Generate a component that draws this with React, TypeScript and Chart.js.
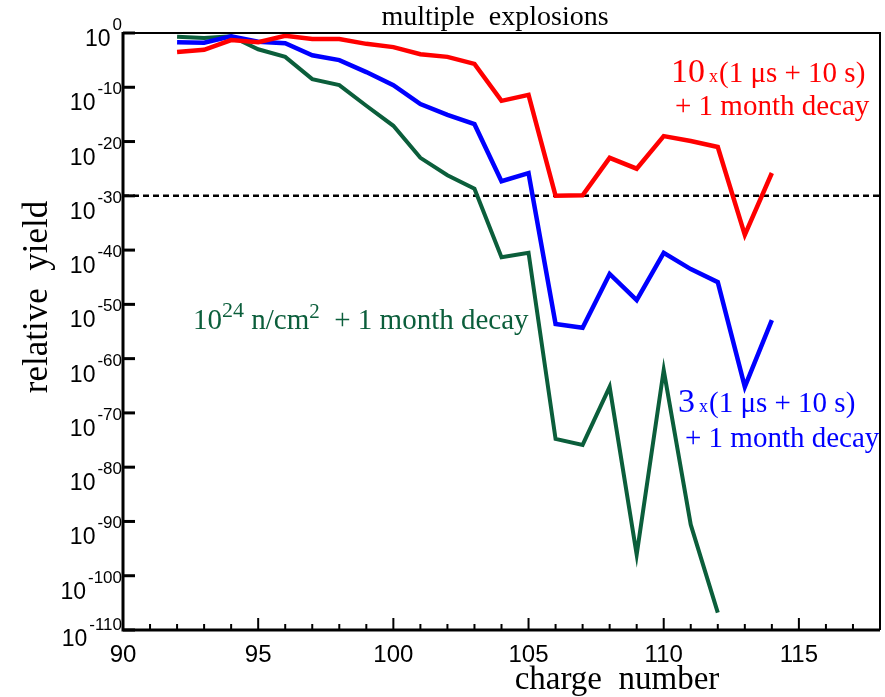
import { useEffect, useRef } from "react";
import { Chart, registerables } from "chart.js";

Chart.register(...registerables);

// ---- data (log10 of relative yield) ----
const charges = [92, 93, 94, 95, 96, 97, 98, 99, 100, 101, 102, 103, 104, 105, 106, 107, 108, 109, 110, 111, 112, 113, 114];
const redLog10 = [-3.5, -3.1, -1.3, -1.7, -0.5, -1.1, -1.1, -2.0, -2.6, -3.9, -4.4, -5.7, -12.5, -11.4, -30.0, -29.9, -23.0, -25.0, -19.0, -19.9, -21.0, -37.2, -25.8];
const blueLog10 = [-1.7, -1.8, -0.6, -1.6, -1.9, -4.1, -5.0, -7.2, -9.6, -13.1, -15.1, -16.8, -27.3, -25.8, -53.6, -54.3, -44.4, -49.2, -40.5, -43.5, -45.9, -65.2, -52.9];
const greenCharges = [92, 93, 94, 95, 96, 97, 98, 99, 100, 101, 102, 103, 104, 105, 106, 107, 108, 109, 110, 111, 112];
const greenLog10 = [-0.7, -0.9, -0.6, -3.0, -4.4, -8.5, -9.6, -13.4, -17.1, -23.0, -26.2, -28.7, -41.3, -40.5, -74.8, -75.9, -65.2, -96.1, -62.1, -90.6, -106.8];
const thresholdLog10 = -30;
const yTickExponents = [0, -10, -20, -30, -40, -50, -60, -70, -80, -90, -100, -110];
const xMajorTicks = [90, 95, 100, 105, 110, 115];
const xMin = 90;
const xMax = 118;

const RED = "#ff0000";
const BLUE = "#0000ff";
const GREEN = "#0b5e3b";
const SERIF = "'Liberation Serif', 'Times New Roman', serif";
const SANS = "'Liberation Sans', Arial, sans-serif";

type Seg = { text: string; size: number; dy?: number; gap?: number };

function drawRich(ctx: CanvasRenderingContext2D, x: number, y: number, segs: Seg[]) {
  let cx = x;
  for (const s of segs) {
    ctx.font = `${s.size}px ${SERIF}`;
    ctx.fillText(s.text, cx, y + (s.dy || 0));
    cx += ctx.measureText(s.text).width + (s.gap || 0);
  }
}

const decorPlugin = {
  id: "decor",
  afterDatasetsDraw(chart: any) {
    const { ctx, chartArea: a, scales } = chart;
    const xs = scales.x;
    const ys = scales.y;
    ctx.save();
    ctx.strokeStyle = "#000";
    ctx.fillStyle = "#000";
    ctx.lineCap = "butt";

    // frame
    ctx.lineWidth = 2;
    ctx.beginPath();
    ctx.moveTo(a.left, a.top);
    ctx.lineTo(a.right, a.top);
    ctx.lineTo(a.right, a.bottom);
    ctx.stroke();
    ctx.lineWidth = 3;
    ctx.beginPath();
    ctx.moveTo(a.left, a.top - 1);
    ctx.lineTo(a.left, a.bottom);
    ctx.lineTo(a.right, a.bottom);
    ctx.stroke();

    // y ticks + labels
    ctx.lineWidth = 3;
    yTickExponents.forEach((e, i) => {
      const py = ys.getPixelForValue(Math.pow(10, e));
      ctx.beginPath();
      ctx.moveTo(a.left, py);
      ctx.lineTo(a.left + 12, py);
      ctx.stroke();
      let off = 0;
      if (i === 0) off = -10;
      if (i === yTickExponents.length - 1) off = -7;
      ctx.textAlign = "right";
      ctx.textBaseline = "alphabetic";
      ctx.font = `17px ${SANS}`;
      const sup = String(e);
      const supW = ctx.measureText(sup).width;
      const supRight = a.left - 1;
      ctx.fillText(sup, supRight, py + 7 + off);
      ctx.font = `23px ${SANS}`;
      ctx.fillText("10", supRight - supW - 2, py + 23 + off);
    });

    // x ticks + labels
    ctx.lineWidth = 2;
    for (let v = xMin + 1; v < xMax; v++) {
      const px = xs.getPixelForValue(v);
      const major = xMajorTicks.includes(v);
      ctx.beginPath();
      ctx.moveTo(px, a.bottom);
      ctx.lineTo(px, a.bottom - (major ? 12 : 6));
      ctx.stroke();
    }
    ctx.textAlign = "center";
    ctx.font = `24px ${SANS}`;
    xMajorTicks.forEach((v) => {
      ctx.fillText(String(v), xs.getPixelForValue(v), a.bottom + 32);
    });

    // titles
    ctx.font = `28px ${SERIF}`;
    ctx.fillText("multiple  explosions", 495, 25);
    ctx.font = `33px ${SERIF}`;
    ctx.fillText("charge  number", 617, 689);
    ctx.save();
    ctx.translate(47, 297);
    ctx.rotate(-Math.PI / 2);
    ctx.font = `35px ${SERIF}`;
    ctx.fillText("relative  yield", 0, 0);
    ctx.restore();

    // annotations
    ctx.textAlign = "left";
    ctx.fillStyle = RED;
    drawRich(ctx, 671, 82, [
      { text: "10", size: 34, gap: 4 },
      { text: "x", size: 18, gap: 1 },
      { text: "(1 μs + 10 s)", size: 29 },
    ]);
    drawRich(ctx, 675, 115, [{ text: "+ 1 month decay", size: 29 }]);

    ctx.fillStyle = BLUE;
    drawRich(ctx, 678, 412, [
      { text: "3", size: 34, gap: 4 },
      { text: "x", size: 18, gap: 1 },
      { text: "(1 μs + 10 s)", size: 29 },
    ]);
    drawRich(ctx, 685, 447, [{ text: "+ 1 month decay", size: 29 }]);

    ctx.fillStyle = GREEN;
    drawRich(ctx, 193, 329, [
      { text: "10", size: 29 },
      { text: "24", size: 22, dy: -12 },
      { text: " n/cm", size: 29 },
      { text: "2", size: 21, dy: -11 },
      { text: "  + 1 month decay", size: 29 },
    ]);

    ctx.restore();
  },
};

function toPoints(xsArr: number[], logs: number[]) {
  return xsArr.map((x, i) => ({ x, y: Math.pow(10, logs[i]) }));
}

export default function App() {
  const ref = useRef<HTMLCanvasElement | null>(null);

  useEffect(() => {
    if (!ref.current) return;
    const chart = new Chart(ref.current, {
      type: "line",
      data: {
        datasets: [
          {
            label: "10 x (1 μs + 10 s) + 1 month decay",
            data: toPoints(charges, redLog10),
            borderColor: RED,
            borderWidth: 4.5,
            pointRadius: 0,
            tension: 0,
            borderJoinStyle: "miter",
          },
          {
            label: "3 x (1 μs + 10 s) + 1 month decay",
            data: toPoints(charges, blueLog10),
            borderColor: BLUE,
            borderWidth: 4.5,
            pointRadius: 0,
            tension: 0,
            borderJoinStyle: "miter",
          },
          {
            label: "10^24 n/cm^2 + 1 month decay",
            data: toPoints(greenCharges, greenLog10),
            borderColor: GREEN,
            borderWidth: 4,
            pointRadius: 0,
            tension: 0,
            borderJoinStyle: "miter",
          },
          {
            label: "threshold",
            data: [
              { x: xMin, y: Math.pow(10, thresholdLog10) },
              { x: xMax, y: Math.pow(10, thresholdLog10) },
            ],
            borderColor: "#000",
            borderWidth: 2.5,
            borderDash: [6, 4],
            pointRadius: 0,
          },
        ],
      },
      options: {
        responsive: false,
        animation: false,
        parsing: false as any,
        layout: { padding: { left: 123, right: 5, top: 33, bottom: 67 } },
        plugins: { legend: { display: false }, tooltip: { enabled: false }, title: { display: false } },
        scales: {
          x: {
            type: "linear",
            min: xMin,
            max: xMax,
            display: false,
          },
          y: {
            type: "logarithmic",
            min: Math.pow(10, -110),
            max: 1,
            display: false,
            afterBuildTicks: (scale: any) => {
              scale.ticks = yTickExponents.map((e) => ({ value: Math.pow(10, e) }));
            },
          },
        },
      },
      plugins: [decorPlugin],
    });
    return () => chart.destroy();
  }, []);

  return (
    <div style={{ position: "absolute", left: 0, top: 0, width: 885, height: 697, background: "#fff" }}>
      <canvas ref={ref} width={885} height={697} />
    </div>
  );
}
